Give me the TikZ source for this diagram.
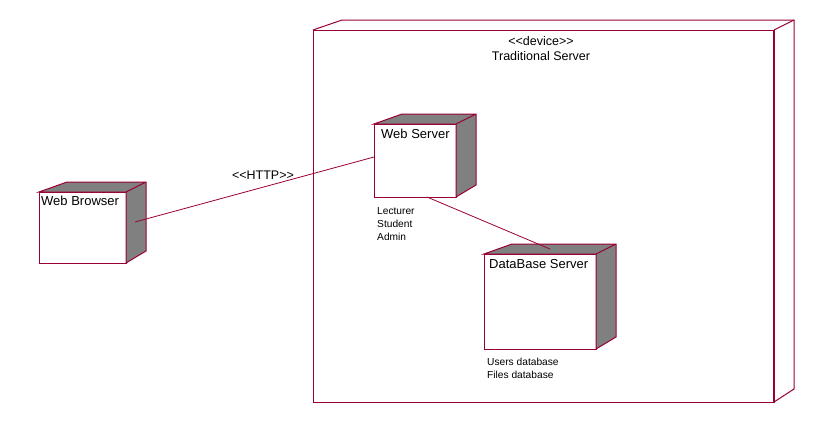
\documentclass[tikz,border=0pt]{standalone}
\usepackage{fontspec}
\setmainfont{Liberation Sans}
\usetikzlibrary{calc}
\definecolor{rosered}{HTML}{990033}
\definecolor{boxgray}{HTML}{808080}
\tikzset{
 face/.style={draw=rosered, line width=1pt, fill=white, inner sep=0pt, outer sep=0pt},
 depth/.style={draw=rosered, line width=1pt, fill=boxgray, line join=miter},
 title/.style={anchor=west, inner sep=0pt, font=\fontsize{13}{15}\selectfont},
 note/.style={anchor=north west, inner sep=0pt, align=left, font=\fontsize{10.2}{13}\selectfont},
 link/.style={draw=rosered, line width=0.8pt}
}
\begin{document}
\begin{tikzpicture}[x=1pt, y=-1pt]
 \useasboundingbox (0,0) rectangle (834,424);

 %% outer device box
 \node [face, minimum width=461, minimum height=372] (device) at (543.5,216) {};
 \draw [rosered, line width=1pt] (device.north west) -- ++(29,-10) -- ([shift={(20,-10)}]device.north east) -- ([shift={(20,-13)}]device.south east) -- (device.south east);
 \draw [rosered, line width=1pt] (device.north east) -- ++(20,-10);
 \draw [rosered, line width=1.6pt] (device.north east) -- (device.south east);
 \node [align=center, inner sep=0pt, font=\fontsize{12.5}{15}\selectfont] (devname) at (541,48.5) {<{}<device>{}>\\Traditional Server};

 %% inner nodes
 \node [face, minimum width=87, minimum height=71] (browser) at (82.5,227.5) {};
 \node [face, minimum width=82, minimum height=73] (websrv) at (415,160.5) {};
 \node [face, minimum width=112, minimum height=95] (dbsrv) at (540,301.5) {};

 \foreach \n in {browser, websrv, dbsrv}
  \draw [depth] (\n.north west) -- ++(28,-10) -- ([shift={(20,-10)}]\n.north east) -- ([shift={(20,-12)}]\n.south east) -- (\n.south east) -- (\n.north east) -- cycle (\n.north east) -- ++(20,-10);

 \node [title] (browsertxt) at (41,201) {Web Browser};
 \node [title] (websrvtxt) at (381,134) {Web Server};
 \node [title] (dbsrvtxt) at (489,264) {DataBase Server};

 \node [note] (roles) at (377,207.5) {Lecturer\\Student\\Admin};
 \node [note] (dbs) at (487,357.5) {Users database\\Files database};

 %% links
 \draw [link] ($(browser.east)+(9,-5.5)$) -- ($(websrv.west)+(0,-3.5)$);
 \draw [link] ($(websrv.south)+(12,0)$) -- ($(dbsrv.north)+(10,-5)$);
 \node [inner sep=0pt, font=\fontsize{12.5}{15}\selectfont] (http) at (263,175) {<{}<HTTP>{}>};
\end{tikzpicture}
\end{document}
